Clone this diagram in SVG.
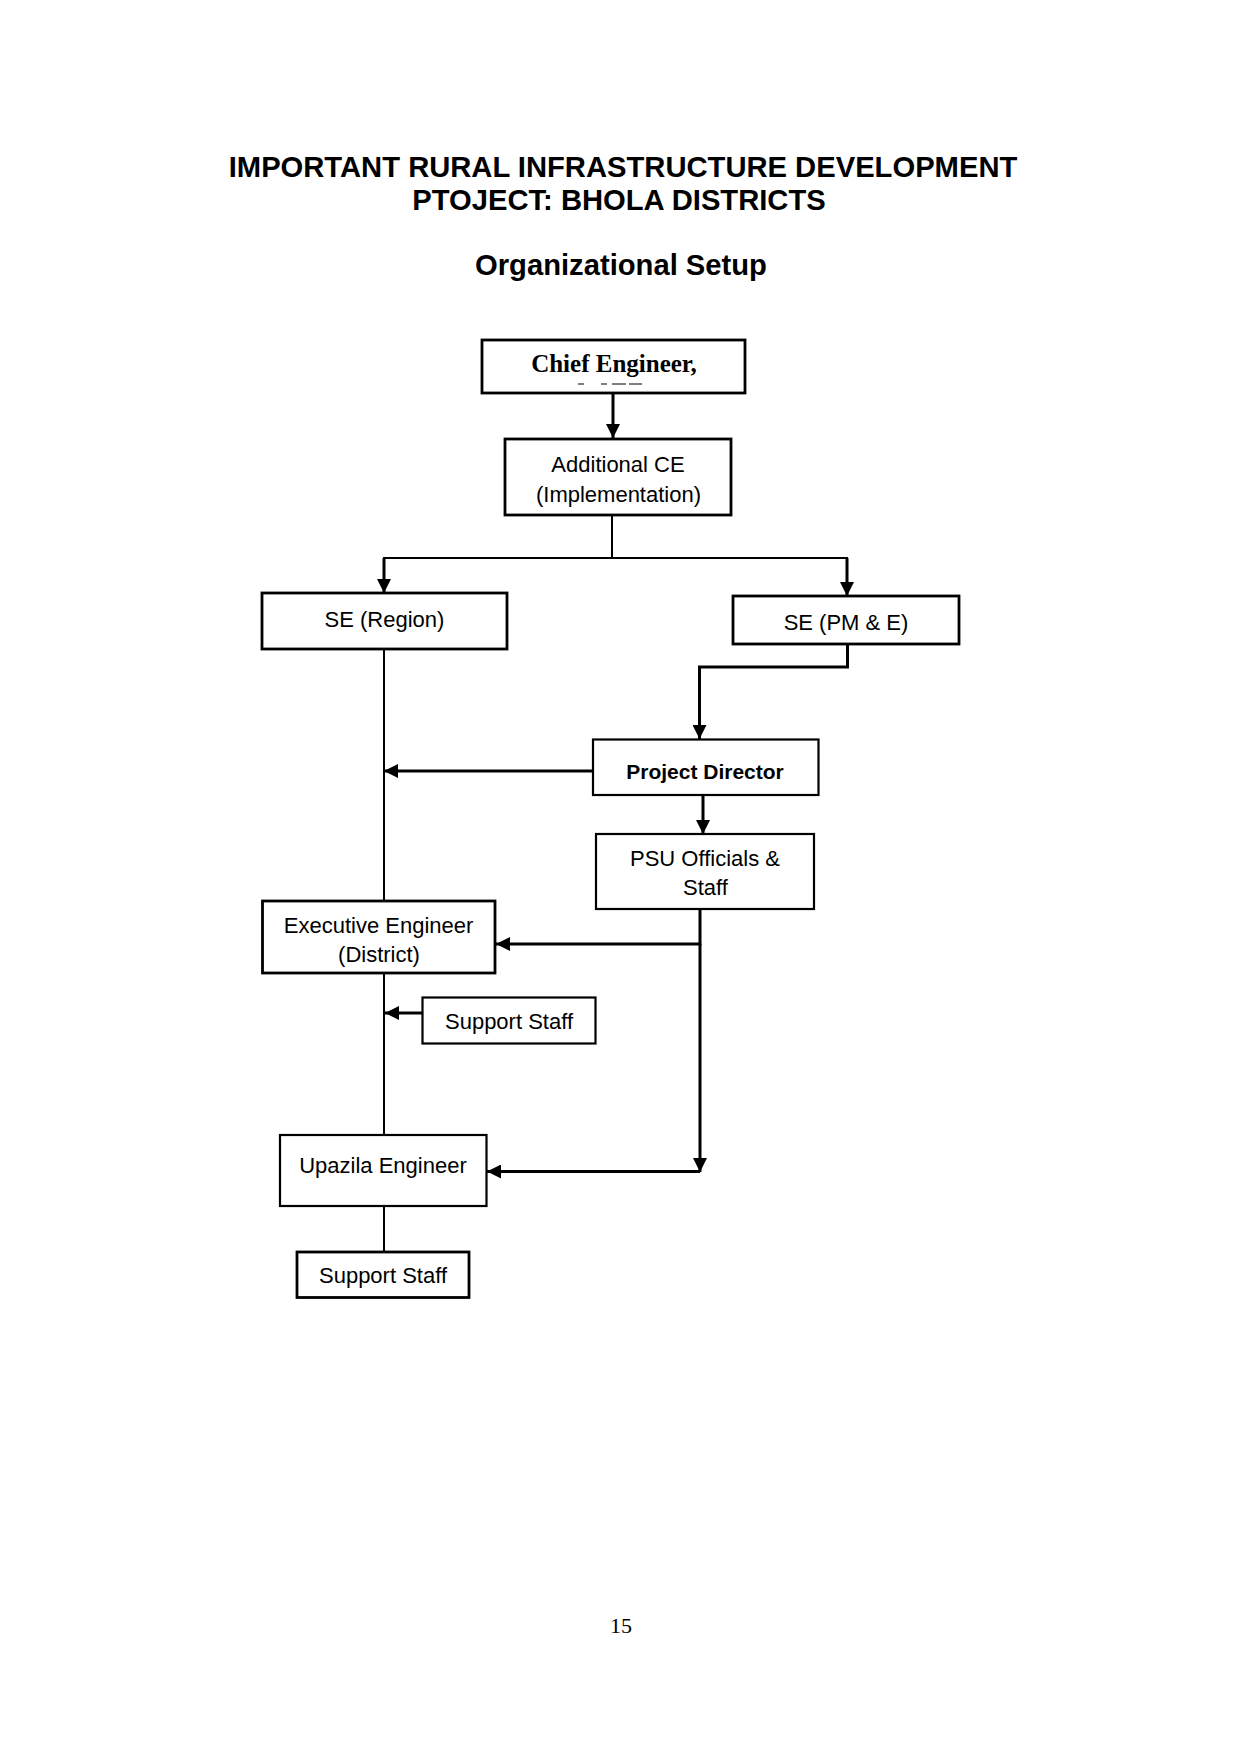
<svg xmlns="http://www.w3.org/2000/svg" width="1241" height="1753" viewBox="0 0 1241 1753">
  <style>
    .bg { fill: #ffffff; }
    .title { font-family: "Liberation Sans", Arial, sans-serif; font-weight: bold; font-size: 29.2px; fill: #000; text-anchor: middle; }
    .box { fill: #ffffff; stroke: #000; stroke-width: 2.8; }
    .box-thin { fill: #ffffff; stroke: #000; stroke-width: 2.2; }
    .lbl { font-family: "Liberation Sans", Arial, sans-serif; font-size: 22px; fill: #000; text-anchor: middle; }
    .lbl-b { font-family: "Liberation Sans", Arial, sans-serif; font-weight: bold; font-size: 21px; fill: #000; text-anchor: middle; }
    .serif-b { font-family: "Liberation Serif", "Times New Roman", serif; font-weight: bold; font-size: 25px; fill: #000; text-anchor: middle; }
    .pg { font-family: "Liberation Serif", "Times New Roman", serif; font-size: 22px; fill: #000; text-anchor: middle; }
    .thin { fill: none; stroke: #000; stroke-width: 2; }
    .thick { fill: none; stroke: #000; stroke-width: 3; }
    .arr { marker-end: url(#ah); }
    .frag { stroke: #555; stroke-width: 1.5; }
  </style>
  <defs>
    <marker id="ah" viewBox="0 0 14 14" refX="14" refY="7" markerWidth="14" markerHeight="14" markerUnits="userSpaceOnUse" orient="auto">
      <path d="M0,0 L14,7 L0,14 z" fill="#000"/>
    </marker>
  </defs>

  <rect class="bg" x="0" y="0" width="1241" height="1753"/>

  <g id="title">
    <text class="title" x="623" y="177">IMPORTANT RURAL INFRASTRUCTURE DEVELOPMENT</text>
    <text class="title" x="619" y="210">PTOJECT: BHOLA DISTRICTS</text>
    <text class="title" x="621" y="275">Organizational Setup</text>
  </g>

  <g id="connectors">
    <path class="thick arr" d="M613,393 V438"/>
    <path class="thin" d="M612,515 V558"/>
    <path class="thin" d="M383,558 H848"/>
    <path class="thick arr" d="M384,558 V593"/>
    <path class="thick arr" d="M847,558 V596"/>
    <path class="thick arr" d="M847.5,645 V667 H699.5 V739"/>
    <path class="thick arr" d="M593,771 H384"/>
    <path class="thick arr" d="M703,796 V834"/>
    <path class="thin" d="M384,649 V901"/>
    <path class="thick arr" d="M700,909 V944 H496"/>
    <path class="thick arr" d="M700,944 V1172"/>
    <path class="thick arr" d="M700,1171.5 H487"/>
    <path class="thick arr" d="M422,1013 H385"/>
    <path class="thin" d="M384,973 V1135"/>
    <path class="thin" d="M384,1206 V1252"/>
  </g>

  <g id="chief-engineer">
    <rect class="box" x="482" y="340" width="263" height="53"/>
    <text class="serif-b" x="614" y="372">Chief Engineer,</text>
    <line class="frag" x1="578" y1="384" x2="584" y2="384"/>
    <line class="frag" x1="601" y1="384" x2="607" y2="384"/>
    <line class="frag" x1="612" y1="384" x2="626" y2="384"/>
    <line class="frag" x1="629" y1="384" x2="642" y2="384"/>
  </g>

  <g id="additional-ce">
    <rect class="box" x="505" y="439" width="226" height="76"/>
    <text class="lbl" x="618" y="471.5">Additional CE</text>
    <text class="lbl" x="618.5" y="501.5">(Implementation)</text>
  </g>

  <g id="se-region">
    <rect class="box" x="262" y="593" width="245" height="56"/>
    <text class="lbl" x="384.5" y="627">SE (Region)</text>
  </g>

  <g id="se-pme">
    <rect class="box" x="733" y="596" width="226" height="48"/>
    <text class="lbl" x="846" y="630">SE (PM &amp; E)</text>
  </g>

  <g id="project-director">
    <rect class="box-thin" x="593" y="739.5" width="225.5" height="55.5"/>
    <text class="lbl-b" x="705" y="779">Project Director</text>
  </g>

  <g id="psu-officials">
    <rect class="box-thin" x="596" y="834" width="218" height="75"/>
    <text class="lbl" x="705" y="866">PSU Officials &amp;</text>
    <text class="lbl" x="705.5" y="895">Staff</text>
  </g>

  <g id="executive-engineer">
    <rect class="box" x="262.5" y="901" width="232.5" height="72"/>
    <text class="lbl" x="378.6" y="933">Executive Engineer</text>
    <text class="lbl" x="379" y="962">(District)</text>
  </g>

  <g id="support-staff-1">
    <rect class="box-thin" x="422.5" y="997.5" width="173" height="46"/>
    <text class="lbl" x="509" y="1029">Support Staff</text>
  </g>

  <g id="upazila-engineer">
    <rect class="box-thin" x="280" y="1135" width="206.5" height="71"/>
    <text class="lbl" x="383" y="1173">Upazila Engineer</text>
  </g>

  <g id="support-staff-2">
    <rect class="box" x="297" y="1252" width="172" height="45.5"/>
    <text class="lbl" x="383" y="1283">Support Staff</text>
  </g>

  <g id="page-number">
    <text class="pg" x="621" y="1633">15</text>
  </g>
</svg>
